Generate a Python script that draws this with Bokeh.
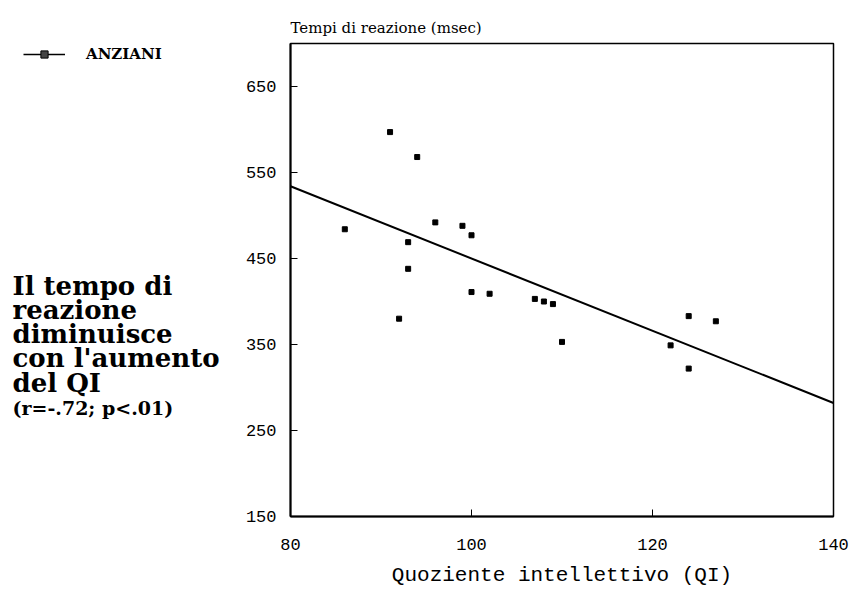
from bokeh.plotting import figure
from bokeh.layouts import row
from bokeh.models import Range1d, FixedTicker, Legend, LegendItem
from bokeh.core.properties import value
from bokeh.embed import file_html
from bokeh.resources import INLINE

# Data
qi = [86, 91, 94, 96, 99, 100, 93, 93, 92, 100, 102, 107, 108, 109, 110, 122, 124, 124, 127]
tempi = [484, 597, 568, 492, 488, 477, 469, 438, 380, 411, 409, 403, 400, 397, 353, 349, 383, 322, 377]
fit_x = [80, 140]
fit_y = [534, 282]
x_ticks = [80, 100, 120, 140]
y_ticks = [150, 250, 350, 450, 550, 650]
series_name = "ANZIANI"
side_text = ["Il tempo di", "reazione", "diminuisce", "con l'aumento", "del QI"]
stats_text = "(r=-.72; p<.01)"
title_text = "Tempi di reazione (msec)"
x_label = "Quoziente intellettivo (QI)"

H = 589
LW = 240
TOP = 43      # frame top (px)
BOTTOM = 72   # space below frame (px)
FRAME_BOTTOM = H - BOTTOM
NAN = float("nan")

# ---- left panel: explanatory text and legend ----
# its frame is aligned by the row layout with the main frame; use page-pixel coordinates
lf = figure(width=LW, height=H, output_backend="svg", toolbar_location=None, title=None,
            x_range=Range1d(0, LW), y_range=Range1d(FRAME_BOTTOM, TOP),
            x_axis_type=None, y_axis_type=None,
            min_border_left=0, min_border_right=0, min_border_top=TOP, min_border_bottom=BOTTOM)
lf.grid.visible = False
lf.outline_line_color = None
lf.background_fill_color = "white"
lf.border_fill_color = "white"

text_x = [12] * len(side_text)
text_y = [286, 310, 334, 358, 383]
lf.text(x=text_x, y=text_y, text=side_text, text_font=value("DejaVu Serif"),
        text_font_style="bold", text_font_size="26px", text_color="black",
        text_baseline="alphabetic", text_align="left")
lf.text(x=[12], y=[408], text=[stats_text], text_font=value("DejaVu Serif"),
        text_font_style="bold", text_font_size="19px", text_color="black",
        text_baseline="alphabetic", text_align="left")

# legend sample renderers (no visible data of their own)
leg_line = lf.line(x=[NAN], y=[NAN], line_color="black", line_width=1.5)
leg_pts = lf.scatter(x=[NAN], y=[NAN], marker="square", size=4, fill_color="#444444", line_color="black")
legend = Legend(items=[LegendItem(label=series_name, renderers=[leg_line, leg_pts])],
                location=(23, FRAME_BOTTOM - 64), glyph_width=42, glyph_height=18,
                label_standoff=21, padding=0, margin=0, spacing=0,
                border_line_alpha=0, background_fill_alpha=0,
                label_text_font="DejaVu Serif", label_text_font_style="bold",
                label_text_font_size="15px", label_text_color="black")
lf.add_layout(legend)

# ---- main scatter plot ----
p = figure(width=852 - LW, height=H, output_backend="svg", toolbar_location=None,
           x_range=Range1d(80, 140), y_range=Range1d(150, 700),
           min_border_left=50, min_border_right=19, min_border_top=TOP, min_border_bottom=BOTTOM)
p.grid.visible = False
p.background_fill_color = "white"
p.border_fill_color = "white"
p.outline_line_color = "black"
p.outline_line_width = 1.5

p.title.text = title_text
p.title.align = "left"
p.title.offset = 0
p.title.standoff = 14
p.title.text_font = "DejaVu Serif"
p.title.text_font_style = "normal"
p.title.text_font_size = "15px"
p.title.text_color = "black"

for ax in (p.xaxis[0], p.yaxis[0]):
    ax.axis_line_width = 2
    ax.axis_line_color = "black"
    ax.major_tick_in = 7
    ax.major_tick_out = 0
    ax.minor_tick_line_color = None
    ax.major_label_text_font = "Liberation Mono"
    ax.major_label_text_font_size = "17px"
    ax.major_label_text_color = "black"

p.xaxis.ticker = FixedTicker(ticks=x_ticks)
p.yaxis.ticker = FixedTicker(ticks=y_ticks)
p.xaxis.major_label_standoff = 22
p.yaxis.major_label_standoff = 14
p.xaxis.axis_label = x_label
p.xaxis.axis_label_text_font = "Liberation Mono"
p.xaxis.axis_label_text_font_size = "21px"
p.xaxis.axis_label_text_font_style = "normal"
p.xaxis.axis_label_text_color = "black"
p.xaxis.axis_label_standoff = 11

p.line(fit_x, fit_y, line_color="black", line_width=2)
p.scatter(qi, tempi, marker="square", size=5, fill_color="black", line_color="black")

layout = row(lf, p, spacing=0)
open("out.html", "w").write(file_html(layout, INLINE))
